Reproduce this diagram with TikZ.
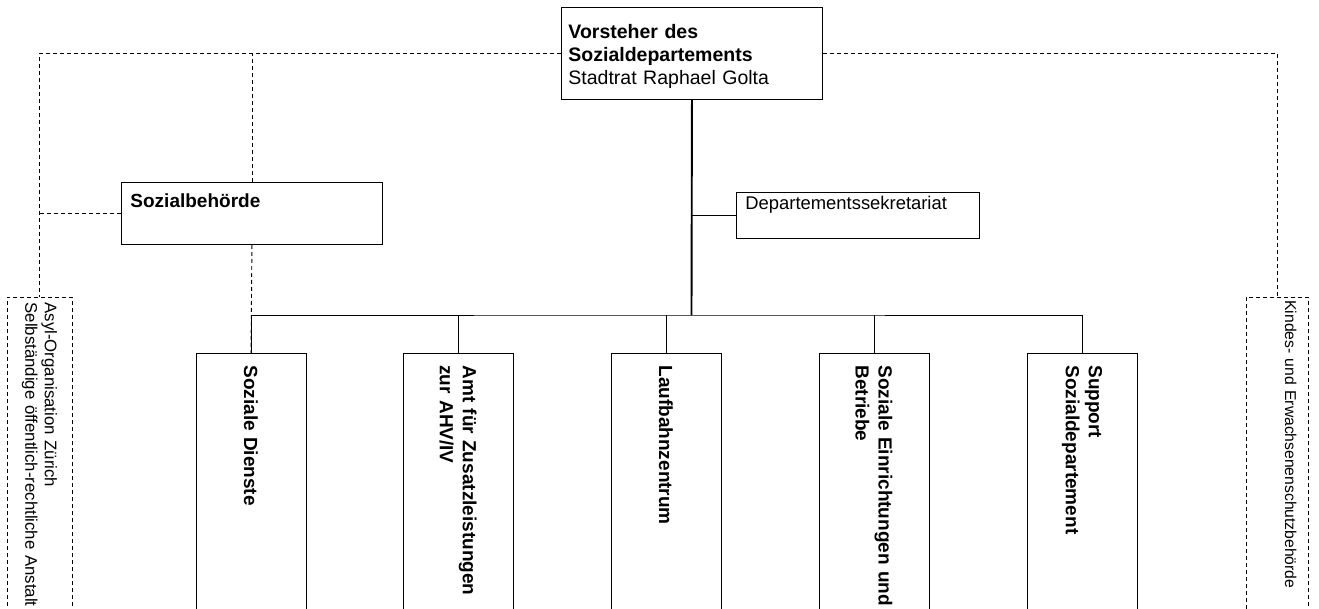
\documentclass[tikz,border=0pt]{standalone}
\usepackage{fontspec}
\setmainfont{Liberation Sans}
\begin{document}
\begin{tikzpicture}[x=1pt,y=1pt,
  box/.style={draw, line width=0.9pt, inner sep=0pt},
  unitbox/.style={box, rotate=-90, anchor=west, minimum width=290, minimum height=110,
    text width=266, inner xsep=12, align=left, font=\fontsize{19}{23}\selectfont\bfseries},
  dashbox/.style={draw, dash pattern=on 4pt off 3pt, line width=0.9pt, rotate=-90, anchor=west,
    minimum width=330, align=left},
  dline/.style={dash pattern=on 4pt off 3pt, line width=0.9pt},
  sline/.style={line width=0.8pt},
  mainline/.style={line width=1.9pt}
]
\useasboundingbox (0,0) rectangle (1319,-608);
\clip (0,0) rectangle (1319,-608);

% top box
\node[box, anchor=north west, minimum width=261, minimum height=92, text width=247,
  inner xsep=7, align=left, font=\fontsize{19.5}{23}\selectfont] (top) at (561,-7)
  {\rule{0pt}{20pt}\textbf{Vorsteher des}\\\textbf{Sozialdepartements}\\Stadtrat Raphael Golta};

% Sozialbehoerde
\node[box, anchor=north west, minimum width=261, minimum height=62, text width=243,
  inner xsep=9, inner ysep=0pt, text height=25, text depth=37, align=left,
  font=\fontsize{19}{23}\selectfont\bfseries] (soz) at (121,-182) {Sozialbehörde};

% Departementssekretariat
\node[box, anchor=north west, minimum width=243, minimum height=46, text width=225,
  inner xsep=9, inner ysep=0pt, text height=17, text depth=29, align=left,
  font=\fontsize{18.4}{22}\selectfont] (sek) at (736,-192) {Departementssekretariat};

% side dashed boxes
\node[dashbox, minimum height=65, inner xsep=5, text width=320,
  font=\fontsize{16.8}{19.5}\selectfont] (asyl) at (39.5,-297)
  {Asyl-Organisation Zürich\\Selbständige öffentlich-rechtliche Anstalt};
\node[dashbox, inner ysep=0pt, text height=23, text depth=39, inner xsep=3, text width=324,
  font=\fontsize{15.7}{19}\selectfont] (kes) at (1277,-297)
  {Kindes- und Erwachsenenschutzbehörde};

% units
\node[unitbox] (dienste) at (251,-353) {Soziale Dienste};
\node[unitbox] (amt) at (458,-353) {Amt für Zusatzleistungen\\zur AHV/IV};
\node[unitbox] (lbz) at (666,-353) {Laufbahnzentrum};
\node[unitbox] (sea) at (874,-353) {Soziale Einrichtungen und\\Betriebe};
\node[unitbox] (sup) at (1082,-353) {Support\\Sozialdepartement};

\coordinate (bar) at (691.5,-315);

% dashed connectors
\draw[dline] (top.west) -| (asyl.west);
\draw[dline] (soz.north) -- (soz.north |- top.west);
\draw[dline] (soz.west) -- (soz.west -| asyl.west);
\draw[dline] (soz.south) -- (dienste.west);
\draw[dline] (top.east) -| (kes.west);

% solid connectors
\draw[mainline] (top.south) -- (bar);
\draw[sline] (dienste.west) |- (bar) -| (sup.west);
\draw[sline] (amt.west) -- (amt.west |- bar);
\draw[sline] (lbz.west) -- (lbz.west |- bar);
\draw[sline] (sea.west) -- (sea.west |- bar);
\draw[sline] (sek.west) -- (sek.west -| top.south);
\end{tikzpicture}
\end{document}
